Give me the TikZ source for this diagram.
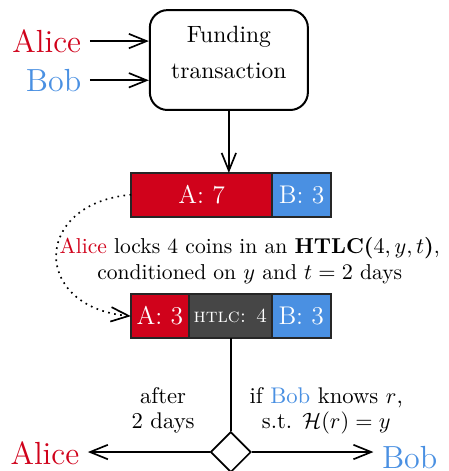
\documentclass[tikz,border=0pt]{standalone}
\usepackage{amsmath,amssymb}
\usepackage{xcolor}
\usepackage{tikz}
\usetikzlibrary{arrows.meta,calc,positioning,shapes.geometric}
\definecolor{alicered}{HTML}{D0021B}
\definecolor{bobblue}{HTML}{4A90E2}
\definecolor{htlcgray}{HTML}{464646}
\tikzset{
  cell/.style={draw=black!85,line width=0.9pt,minimum height=0.69cm,inner sep=0pt,outer sep=0pt,text=white,font=\fontsize{11.5}{14}\selectfont},
  party/.style={font=\Large,inner sep=3.5pt},
  caption/.style={align=center,font=\fontsize{10.2}{11.3}\selectfont},
}

\begin{document}
\begin{tikzpicture}[>={Straight Barb[length=8pt,width=6.5pt]},line width=0.75pt,scale=1]
\useasboundingbox (0,0) rectangle (7.10,7.45);
\node[draw,rounded corners=0.28cm,minimum width=2.50cm,minimum height=1.58cm,text depth=7pt,align=center,line width=0.9pt,font=\fontsize{10.6}{12.6}\selectfont] (fund) at (3.62,6.50) {Funding\\[3.5pt]transaction};
\node[party,text=alicered,anchor=east] (alice) at (1.42,6.80) {Alice};
\node[party,text=bobblue,anchor=east] (bob) at (1.42,6.18) {Bob};
\draw[->] (alice.east) -- (alice.east -| fund.west);
\draw[->] (bob.east) -- (bob.east -| fund.west);
\node[cell,fill=alicered,minimum width=2.23cm] (a7) at (3.19,4.37) {A: 7};
\node[cell,fill=bobblue,minimum width=0.93cm,right=0pt of a7] (b7) {B: 3};
\draw[->] (fund.south) -- (fund.south |- a7.north);
\node[caption,font=\fontsize{9.7}{11.6}\selectfont] (note) at (3.95,3.33) {\textcolor{alicered}{Alice} locks 4 coins in an \textbf{HTLC(}$4,y,t$\textbf{)},\\ conditioned on $y$ and $t=2$ days};
\node[cell,fill=alicered,minimum width=0.92cm] (a3) at (2.53,2.45) {A: 3};
\node[cell,fill=htlcgray,minimum width=1.31cm,right=0pt of a3,font=\small] (htlc) {\textsc{htlc: 4}};
\node[cell,fill=bobblue,minimum width=0.93cm,right=0pt of htlc] (b3) {B: 3};
\draw[->,dotted] (a7.west) to[out=185,in=175,looseness=2.1] (a3.west);
\node[diamond,draw,inner sep=0pt,minimum size=0.64cm] (split) at (3.65,0.30) {};
\draw (split.north) -- (split.north |- htlc.south);
\node[party,text=alicered] (alice2) at (0.71,0.28) {Alice};
\node[party,text=bobblue] (bob2) at (6.48,0.22) {Bob};
\draw[->] (split.west) -- (split.west -| alice2.east);
\draw[->] (split.east) -- (split.east -| bob2.west);
\node[caption] (after) at (2.58,0.96) {after\\ 2 days};
\node[caption] (ifbob) at (5.16,0.95) {if \textcolor{bobblue}{Bob} knows $r$,\\ s.t. $\mathcal{H}(r)=y$};
\end{tikzpicture}
\end{document}
